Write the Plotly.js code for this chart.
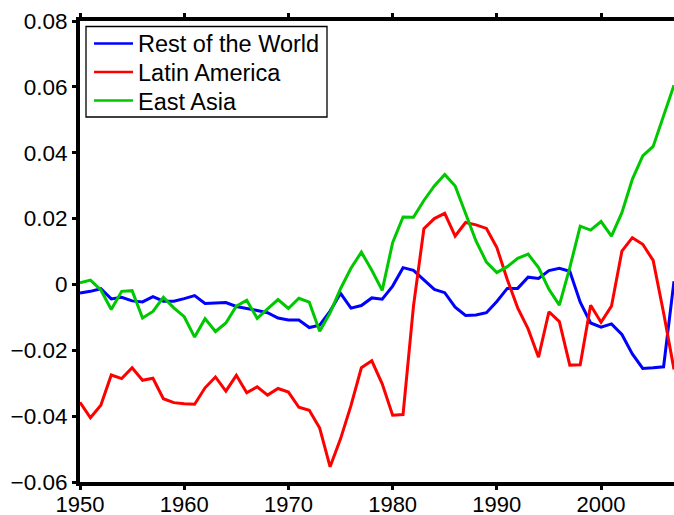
<!DOCTYPE html>
<html>
<head>
<meta charset="utf-8">
<script src="https://cdn.plot.ly/plotly-3.0.1.min.js"></script>
<style>html,body{margin:0;padding:0;background:#fff;}#chart{width:674px;height:515px;}</style>
</head>
<body>
<div id="chart"></div>
<script>
var years = [];
for (var yr = 1950; yr <= 2007; yr++) years.push(yr);

var restOfWorld = [
 -0.0026,-0.0021,-0.0013,-0.0044,-0.0039,-0.0050,-0.0053,-0.0037,-0.0051,-0.0051,
 -0.0043,-0.0034,-0.0058,-0.0056,-0.0055,-0.0067,-0.0072,-0.0079,-0.0086,-0.0102,
 -0.0108,-0.0108,-0.0131,-0.0124,-0.0081,-0.0027,-0.0072,-0.0064,-0.0041,-0.0045,
 -0.0005,0.0051,0.0043,0.0013,-0.0015,-0.0025,-0.0069,-0.0094,-0.0093,-0.0086,
 -0.0052,-0.0012,-0.0012,0.0022,0.0018,0.0042,0.0049,0.0040,-0.0054,-0.0117,
 -0.0130,-0.0120,-0.0152,-0.0211,-0.0255,-0.0253,-0.0250,0.0010
];
var latinAmerica = [
 -0.0358,-0.0405,-0.0367,-0.0275,-0.0286,-0.0253,-0.0291,-0.0285,-0.0347,-0.0359,
 -0.0362,-0.0364,-0.0314,-0.0281,-0.0324,-0.0276,-0.0329,-0.0311,-0.0336,-0.0316,
 -0.0327,-0.0373,-0.0382,-0.0436,-0.0554,-0.0469,-0.0368,-0.0253,-0.0232,-0.0302,
 -0.0397,-0.0395,-0.0066,0.0169,0.0200,0.0216,0.0147,0.0188,0.0181,0.0170,
 0.0112,0.0015,-0.0071,-0.0135,-0.0221,-0.0083,-0.0113,-0.0245,-0.0244,-0.0063,
 -0.0115,-0.0066,0.0101,0.0142,0.0122,0.0073,-0.0086,-0.0258
];
var eastAsia = [
 0.0005,0.0013,-0.0017,-0.0076,-0.0021,-0.0019,-0.0102,-0.0082,-0.0039,-0.0071,
 -0.0098,-0.0160,-0.0104,-0.0143,-0.0117,-0.0066,-0.0048,-0.0103,-0.0074,-0.0046,
 -0.0073,-0.0042,-0.0054,-0.0142,-0.0086,-0.0013,0.0049,0.0098,0.0043,-0.0018,
 0.0127,0.0205,0.0204,0.0255,0.0299,0.0334,0.0299,0.0218,0.0132,0.0068,
 0.0036,0.0054,0.0079,0.0092,0.0051,-0.0015,-0.0063,0.0051,0.0177,0.0165,
 0.0191,0.0147,0.0218,0.0319,0.0390,0.0419,0.0512,0.0605
];

var seriesNames = ['Rest of the World', 'Latin America', 'East Asia'];
var seriesColors = ['#0000ff', '#ff0000', '#00c800'];
var seriesValues = [restOfWorld, latinAmerica, eastAsia];

var xTicks = [1950,1960,1970,1980,1990,2000];
var yTicks = [-0.06,-0.04,-0.02,0,0.02,0.04,0.06,0.08];
var yTickText = ['\u22120.06','\u22120.04','\u22120.02','0','0.02','0.04','0.06','0.08'];

var traces = seriesValues.map(function (vals, i) {
 return {x: years, y: vals, name: seriesNames[i], type: 'scatter', mode: 'lines',
  line: {color: seriesColors[i], width: 3}, showlegend: false};
});

// plot area geometry (px) for converting the hand-built legend to paper coords
var PL = 80, PT = 21, PW = 594, PH = 461;
function px(x) { return (x - PL) / PW; }
function py(y) { return 1 - (y - PT) / PH; }

var shapes = [{type: 'rect', xref: 'paper', yref: 'paper',
 x0: px(86), x1: px(327), y0: py(26.5), y1: py(117),
 line: {color: '#000', width: 1.3}, fillcolor: '#ffffff', layer: 'above'}];
var annotations = [];
var rowY = [43.5, 72, 100.5];
seriesNames.forEach(function (nm, i) {
 shapes.push({type: 'line', xref: 'paper', yref: 'paper',
  x0: px(94), x1: px(133), y0: py(rowY[i]), y1: py(rowY[i]),
  line: {color: seriesColors[i], width: 2.5}, layer: 'above'});
 annotations.push({xref: 'paper', yref: 'paper', x: px(136), y: py(rowY[i] + 1),
  xanchor: 'left', yanchor: 'middle', text: nm, showarrow: false,
  font: {size: 23.5, color: '#000'}});
});

var layout = {
 width: 674, height: 515,
 margin: {l: 80, r: 0, t: 21, b: 33, pad: 0},
 paper_bgcolor: '#ffffff', plot_bgcolor: '#ffffff',
 font: {family: 'Liberation Sans, Arial, sans-serif', size: 22, color: '#000'},
 showlegend: false,
 shapes: shapes,
 annotations: annotations,
 xaxis: {range: [1950, 2007], tickvals: xTicks, ticktext: xTicks.map(String),
  showgrid: false, zeroline: false, showline: true, linecolor: '#000', linewidth: 4,
  mirror: 'ticks', ticks: 'outside', ticklen: 4, tickwidth: 3, tickcolor: '#000',
  tickfont: {size: 22}, ticklabelstandoff: -4},
 yaxis: {range: [-0.06, 0.08], tickvals: yTicks, ticktext: yTickText,
  showgrid: false, zeroline: false, showline: true, linecolor: '#000', linewidth: 4,
  ticks: 'outside', ticklen: 4, tickwidth: 3, tickcolor: '#000',
  tickfont: {size: 22.5}}
};

Plotly.newPlot('chart', traces, layout, {staticPlot: true, displayModeBar: false});
</script>
</body>
</html>
